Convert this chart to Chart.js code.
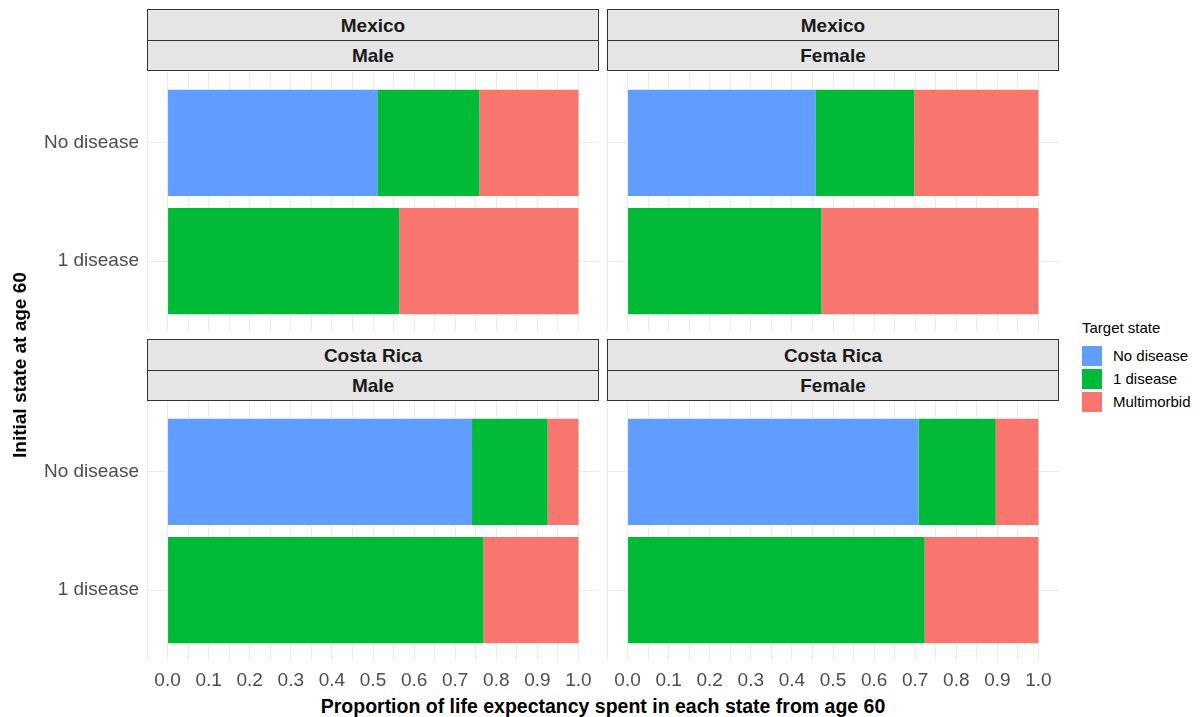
<!DOCTYPE html>
<html>
<head>
<meta charset="utf-8">
<script src="https://cdn.jsdelivr.net/npm/chart.js@4.4.1/dist/chart.umd.min.js"></script>
<style>
  body { margin: 0; background: #fff; font-family: "Liberation Sans", Arial, sans-serif; }
  #wrap { position: relative; width: 1201px; height: 717px; overflow: hidden; }
  .panel { position: absolute; }
  .strip { position: absolute; box-sizing: border-box; width: 452px; height: 62px;
           border: 1px solid #333; background: #e5e5e5; }
  .strip div { text-align: center; font-weight: bold; font-size: 19px; color: #1a1a1a; }
  .strip .r1 { height: 30px; line-height: 31px; border-bottom: 1px solid #333; }
  .strip .r2 { height: 29px; line-height: 30px; }
  .title { position: absolute; font-weight: bold; color: #000; white-space: nowrap; }
  #legend { position: absolute; left: 1082px; top: 317px; font-size: 15px; color: #000; }
  #legend .head { height: 22px; line-height: 22px; margin-bottom: 5px; }
  #legend .item { height: 23px; display: flex; align-items: center; }
  #legend .key { width: 20px; height: 20px; margin-right: 11px; }
</style>
</head>
<body>
<div id="wrap">
  <div class="strip" style="left:147px;top:9px"><div class="r1">Mexico</div><div class="r2">Male</div></div>
  <div class="strip" style="left:607px;top:9px"><div class="r1">Mexico</div><div class="r2">Female</div></div>
  <div class="strip" style="left:147px;top:339px"><div class="r1">Costa Rica</div><div class="r2">Male</div></div>
  <div class="strip" style="left:607px;top:339px"><div class="r1">Costa Rica</div><div class="r2">Female</div></div>

  <div class="panel" style="left:0;top:72px;width:599px;height:260px"><canvas id="mexMale"></canvas></div>
  <div class="panel" style="left:607px;top:72px;width:452px;height:260px"><canvas id="mexFemale"></canvas></div>
  <div class="panel" style="left:0;top:401px;width:599px;height:290px"><canvas id="crMale"></canvas></div>
  <div class="panel" style="left:607px;top:401px;width:452px;height:290px"><canvas id="crFemale"></canvas></div>

  <div class="title" style="left:603px;top:706px;font-size:19.5px;transform:translate(-50%,-50%)">Proportion of life expectancy spent in each state from age 60</div>
  <div class="title" style="left:20px;top:365px;font-size:19px;transform:translate(-50%,-50%) rotate(-90deg)">Initial state at age 60</div>
  <div id="legend"></div>
</div>

<script>
Chart.defaults.font.family = "'Liberation Sans', Arial, sans-serif";
Chart.defaults.animation = false;

// rows of each panel, top to bottom
var initialStates = ["No disease", "1 disease"];
var targetStates = ["No disease", "1 disease", "Multimorbid"];
var stateColors = ["#619CFF", "#00BA38", "#F8766D"];

var xTicks = [0, 0.1, 0.2, 0.3, 0.4, 0.5, 0.6, 0.7, 0.8, 0.9, 1.0];
var xTickLabels = ["0.0", "0.1", "0.2", "0.3", "0.4", "0.5", "0.6", "0.7", "0.8", "0.9", "1.0"];

// share of remaining life in each target state, per initial state [No disease, 1 disease]
var mexMaleNoDisease = [0.512, 0];
var mexMaleOneDisease = [0.247, 0.564];
var mexMaleMulti = [0.241, 0.436];

var mexFemaleNoDisease = [0.457, 0];
var mexFemaleOneDisease = [0.241, 0.472];
var mexFemaleMulti = [0.302, 0.528];

var crMaleNoDisease = [0.741, 0];
var crMaleOneDisease = [0.184, 0.769];
var crMaleMulti = [0.075, 0.231];

var crFemaleNoDisease = [0.708, 0];
var crFemaleOneDisease = [0.188, 0.723];
var crFemaleMulti = [0.104, 0.277];

// grid lines every 0.05 (major + minor), labels only on the majors
var gridValues = [];
for (var g = -0.05; g < 1.06; g += 0.05) gridValues.push(Math.round(g * 100) / 100);

function makePanel(id, series, showX, showY) {
  var datasets = series.map(function (vals, k) {
    return {
      label: targetStates[k],
      backgroundColor: stateColors[k],
      borderWidth: 0,
      barPercentage: 0.9,
      categoryPercentage: 1,
      data: initialStates.map(function (s, i) { return { x: vals[i], y: i + 1 }; })
    };
  });

  return new Chart(document.getElementById(id), {
    type: "bar",
    data: { datasets: datasets },
    options: {
      indexAxis: "y",
      responsive: true,
      maintainAspectRatio: false,
      layout: { padding: 0 },
      plugins: { legend: { display: false }, tooltip: { enabled: false } },
      scales: {
        x: {
          type: "linear",
          stacked: true,
          min: -0.05,
          max: 1.05,
          border: { display: false },
          grid: { color: "#ebebeb", lineWidth: 1, drawTicks: false },
          ticks: {
            display: showX,
            autoSkip: false,
            maxRotation: 0,
            padding: 8,
            color: "#4d4d4d",
            font: { size: 19 },
            callback: function (v) {
              var idx = xTicks.findIndex(function (t) { return Math.abs(t - v) < 1e-6; });
              return idx >= 0 ? xTickLabels[idx] : "";
            }
          },
          afterBuildTicks: function (s) {
            s.ticks = gridValues.map(function (v) { return { value: v }; });
          },
          afterFit: function (s) {
            s.height = showX ? 30 : 0;
            s.paddingLeft = 0; s.paddingRight = 0;
          }
        },
        y: {
          type: "linear",
          stacked: true,
          reverse: true,
          offset: false,
          min: 0.4,
          max: 2.6,
          border: { display: false },
          grid: { color: "#ebebeb", lineWidth: 1, drawTicks: false, offset: false },
          ticks: {
            display: showY,
            padding: 8,
            color: "#4d4d4d",
            font: { size: 19 },
            callback: function (v) { return initialStates[v - 1] || ""; }
          },
          afterBuildTicks: function (s) {
            s.ticks = initialStates.map(function (st, i) { return { value: i + 1 }; });
          },
          afterFit: function (s) {
            s.width = showY ? 147 : 0;
            s.paddingTop = 0; s.paddingBottom = 0;
          }
        }
      }
    }
  });
}

makePanel("mexMale", [mexMaleNoDisease, mexMaleOneDisease, mexMaleMulti], false, true);
makePanel("mexFemale", [mexFemaleNoDisease, mexFemaleOneDisease, mexFemaleMulti], false, false);
makePanel("crMale", [crMaleNoDisease, crMaleOneDisease, crMaleMulti], true, true);
makePanel("crFemale", [crFemaleNoDisease, crFemaleOneDisease, crFemaleMulti], true, false);

// shared legend
var legend = document.getElementById("legend");
var html = '<div class="head">Target state</div>';
targetStates.forEach(function (s, k) {
  html += '<div class="item"><span class="key" style="background:' + stateColors[k] + '"></span>' + s + '</div>';
});
legend.innerHTML = html;
</script>
</body>
</html>
